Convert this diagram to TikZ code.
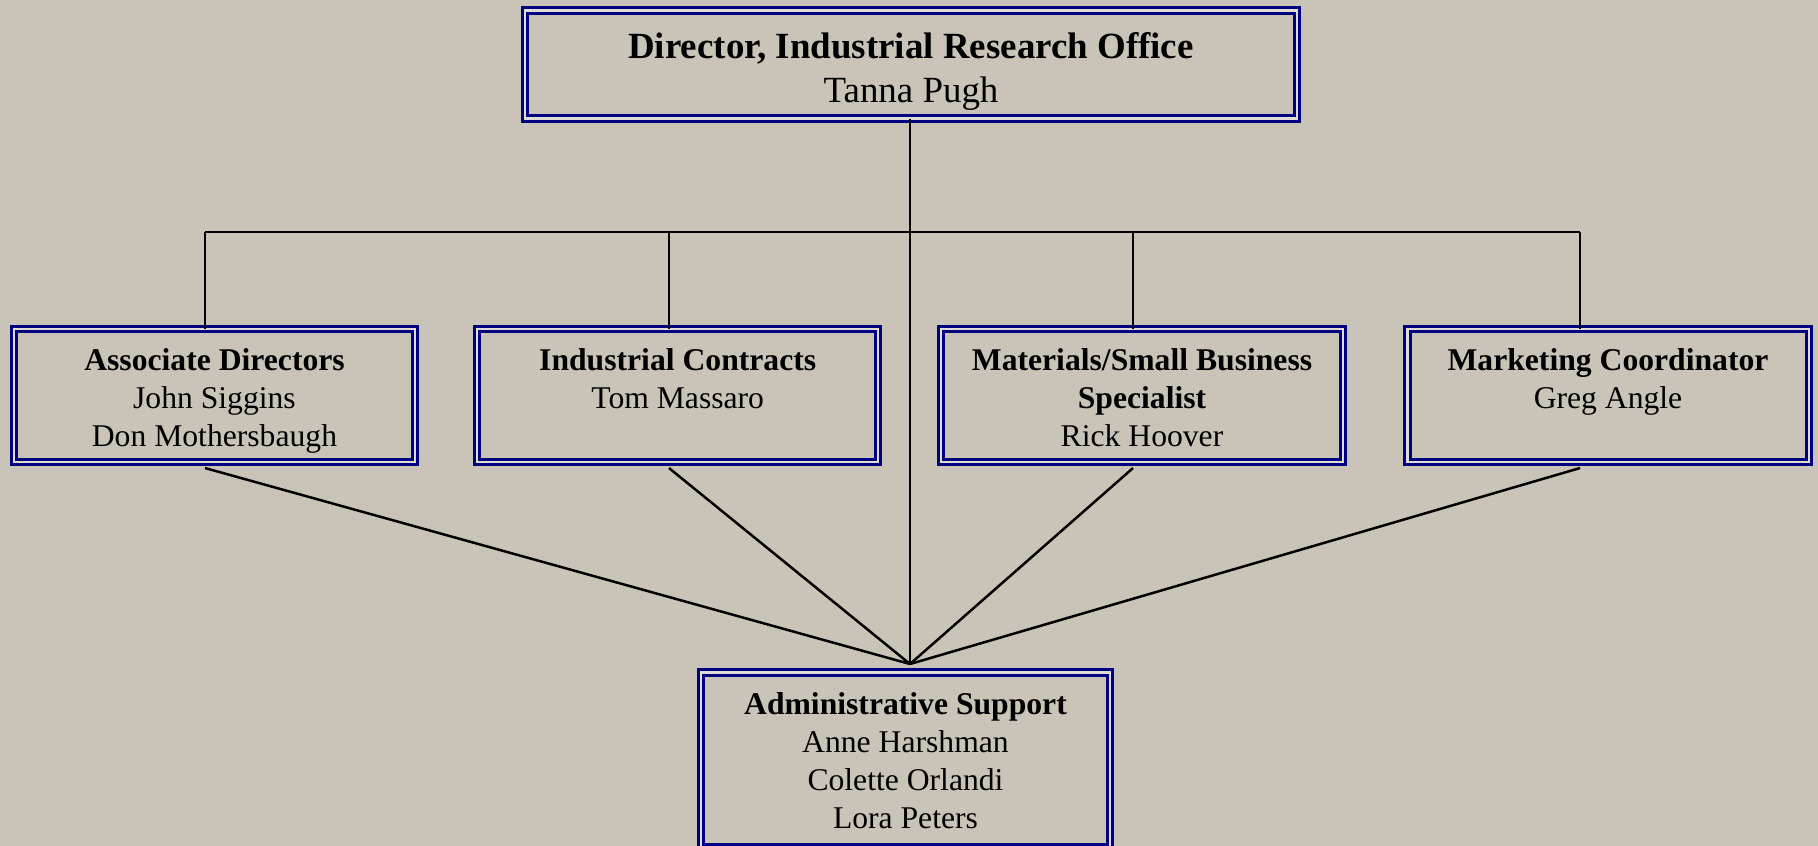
\documentclass[tikz,border=0pt]{standalone}
\usepackage{fontspec}
\setmainfont{Liberation Serif}
\usetikzlibrary{positioning}
\definecolor{paper}{RGB}{201,196,183}
\definecolor{frame}{RGB}{0,0,128}

\begin{document}
\begin{tikzpicture}[
    x=0.01cm, y=-0.01cm,
    unit/.style={rectangle, draw=frame, double=paper!60!white, double distance=0.022cm, line width=0.03cm, outer sep=0pt, inner sep=0pt},
    smallunit/.style={unit, minimum width=4.01cm, minimum height=1.33cm},
    head/.style={align=center, inner sep=0pt, font=\fontsize{10.5}{12.5}\selectfont},
    title/.style={align=center, inner sep=0pt, font=\fontsize{9}{10.8}\selectfont},
    link/.style={black, line width=0.025cm}
]
\fill[paper] (0,0) rectangle (1818,846);
\useasboundingbox (0,0) rectangle (1818,846);

% director
\node[unit, minimum width=7.71cm, minimum height=1.08cm] (director) at (911,64.5) {};
\node[head, below=0.21cm of director.north] (director-t) {\textbf{Director, Industrial Research Office}\\Tanna Pugh};

% second row
\node[smallunit] (assoc) at (214.5,395.5) {};
\node[title, below=0.185cm of assoc.north] (assoc-t) {\textbf{Associate Directors}\\John Siggins\\Don Mothersbaugh};
\node[smallunit] (contracts) at (677.7,395.5) {};
\node[title, below=0.185cm of contracts.north] (contracts-t) {\textbf{Industrial Contracts}\\Tom Massaro};
\node[smallunit] (materials) at (1142,395.5) {};
\node[title, below=0.185cm of materials.north] (materials-t) {\textbf{Materials/Small Business}\\\textbf{Specialist}\\Rick Hoover};
\node[smallunit] (marketing) at (1608,395.5) {};
\node[title, below=0.185cm of marketing.north] (marketing-t) {\textbf{Marketing Coordinator}\\Greg Angle};

% admin
\node[unit, minimum width=4.08cm, minimum height=1.75cm] (admin) at (905.5,760) {};
\node[title, below=0.19cm of admin.north] (admin-t) {\textbf{Administrative Support}\\Anne Harshman\\Colette Orlandi\\Lora Peters};

% connectors
\coordinate (hub) at (910,664);
\coordinate (bus-a) at (205,232);
\coordinate (bus-b) at (669,232);
\coordinate (bus-c) at (1133,232);
\coordinate (bus-d) at (1580,232);

\draw[link] (hub |- director.south) -- (hub);
\draw[link] (bus-a) -- (bus-d);
\draw[link] (bus-a) -- (bus-a |- assoc.north);
\draw[link] (bus-b) -- (bus-b |- contracts.north);
\draw[link] (bus-c) -- (bus-c |- materials.north);
\draw[link] (bus-d) -- (bus-d |- marketing.north);
\draw[link] ([yshift=-0.06cm]bus-a |- assoc.south) -- (hub);
\draw[link] ([yshift=-0.06cm]bus-b |- contracts.south) -- (hub);
\draw[link] ([yshift=-0.06cm]bus-c |- materials.south) -- (hub);
\draw[link] ([yshift=-0.06cm]bus-d |- marketing.south) -- (hub);

\end{tikzpicture}
\end{document}
